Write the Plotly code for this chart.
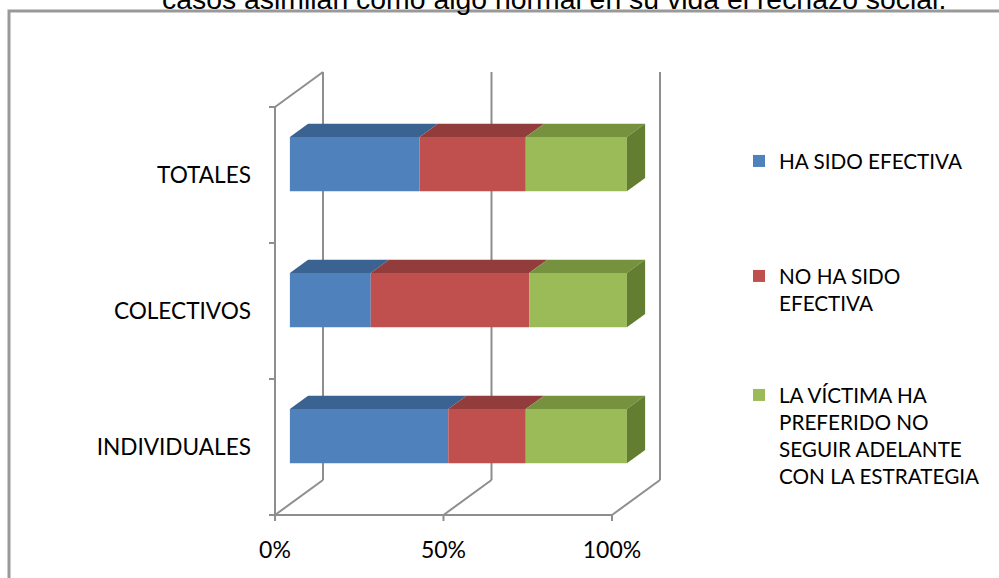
import plotly.graph_objects as go

# ---------------- data ----------------
categories = ["INDIVIDUALES", "COLECTIVOS", "TOTALES"]
series_names = [
    "HA SIDO EFECTIVA",
    "NO HA SIDO<br>EFECTIVA",
    "LA VÍCTIMA HA<br>PREFERIDO NO<br>SEGUIR ADELANTE<br>CON LA ESTRATEGIA",
]
ha_sido_efectiva = [47, 24, 38.5]
no_ha_sido_efectiva = [23, 47, 31.5]
victima_no_sigue = [30, 29, 30]
x_tick_values = [0, 50, 100]
x_tick_labels = ["0%", "50%", "100%"]
title_text = "casos asimilan como algo normal en su vida el rechazo social."

# ---------------- styles ----------------
front_colors = ["#4F81BD", "#C0504D", "#9BBB59"]
top_colors = ["#3B6391", "#923D3B", "#76923E"]
side_color = "#637D31"
grid_color = "#8e8e8e"
FONT = "Lato"

# pseudo-3D projection (Excel style 3D stacked bar)
PX_PER_PCT = 3.37
PX_PER_UNIT = 136.0
DEPTH_X = 48 / PX_PER_PCT      # full depth shift in % units
DEPTH_Y = 35 / PX_PER_UNIT     # full depth shift in category units
F1, F2 = 0.31, 0.69            # bar front/back depth
BAR_W = 0.4

W, H = 999, 578
L, R, T, B = 262, 680, 55, 525   # plot area in pixels
FRONT_X0_PX, FRONT_Y0_PX = 275, 515
x_range = [(L - FRONT_X0_PX) / PX_PER_PCT, (R - FRONT_X0_PX) / PX_PER_PCT]
y_range = [(FRONT_Y0_PX - B) / PX_PER_UNIT, (FRONT_Y0_PX - T) / PX_PER_UNIT]


def proj(x, y, d):
    return x + DEPTH_X * d, y + DEPTH_Y * d


fig = go.Figure()
shapes = []


def add_line(p0, p1):
    shapes.append(dict(type="line", xref="x", yref="y", x0=p0[0], y0=p0[1],
                       x1=p1[0], y1=p1[1], layer="below",
                       line=dict(color=grid_color, width=2)))


n_cat = len(categories)
# walls / floor / gridlines
add_line(proj(0, 0, 0), proj(0, n_cat, 0))
add_line(proj(0, n_cat, 0), proj(0, n_cat, 1))
for xv in x_tick_values:
    add_line(proj(xv, 0, 1), proj(xv, n_cat, 1))
    add_line(proj(xv, 0, 0), proj(xv, 0, 1))
    add_line(proj(xv, 0, 0), proj(xv, -6 / PX_PER_UNIT, 0))
add_line(proj(x_tick_values[0], 0, 0), proj(x_tick_values[-1], 0, 0))
for k in range(n_cat + 1):
    add_line(proj(0, k, 0), proj(-6 / PX_PER_PCT, k, 0))

series = [ha_sido_efectiva, no_ha_sido_efectiva, victima_no_sigue]
cum = [0.0] * n_cat
legend_ids = ["legend", "legend2", "legend3"]
for si, vals in enumerate(series):
    starts = cum[:]
    ends = [s + v for s, v in zip(starts, vals)]
    yc = [i + 0.5 for i in range(n_cat)]
    # front faces as real bars
    fig.add_trace(go.Bar(
        orientation="h",
        x=vals,
        base=[s + DEPTH_X * F1 for s in starts],
        y=[c + DEPTH_Y * F1 for c in yc],
        width=BAR_W,
        marker=dict(color=front_colors[si], line=dict(width=0)),
        name=series_names[si],
        legend=legend_ids[si],
        hoverinfo="skip",
    ))
    # top faces
    for i in range(n_cat):
        yt = yc[i] + BAR_W / 2
        pts = [proj(starts[i], yt, F1), proj(ends[i], yt, F1),
               proj(ends[i], yt, F2), proj(starts[i], yt, F2)]
        fig.add_trace(go.Scatter(
            x=[p[0] for p in pts] + [pts[0][0]],
            y=[p[1] for p in pts] + [pts[0][1]],
            mode="lines", fill="toself", fillcolor=top_colors[si],
            line=dict(width=0), showlegend=False, hoverinfo="skip"))
        if si == len(series) - 1:
            yb = yc[i] - BAR_W / 2
            pts = [proj(ends[i], yb, F1), proj(ends[i], yt, F1),
                   proj(ends[i], yt, F2), proj(ends[i], yb, F2)]
            fig.add_trace(go.Scatter(
                x=[p[0] for p in pts] + [pts[0][0]],
                y=[p[1] for p in pts] + [pts[0][1]],
                mode="lines", fill="toself", fillcolor=side_color,
                line=dict(width=0), showlegend=False, hoverinfo="skip"))
    cum = ends

# outer frame (paper coordinates)
pw, ph = R - L, B - T
def px_to_paper_x(px): return (px - L) / pw
def px_to_paper_y(py): return 1 + (T - py) / ph

shapes.append(dict(type="rect", xref="paper", yref="paper",
                   x0=px_to_paper_x(9), x1=px_to_paper_x(1020),
                   y0=px_to_paper_y(600), y1=px_to_paper_y(11),
                   line=dict(color="#999999", width=3), layer="below"))

legend_font = dict(family=FONT, size=20.7, color="#000000")
legend_common = dict(xanchor="left", yanchor="top", valign="top",
                     bgcolor="rgba(0,0,0,0)", font=legend_font,
                     x=px_to_paper_x(739))
fig.update_layout(
    width=W, height=H,
    margin=dict(l=L, r=W - R, t=T, b=H - B),
    paper_bgcolor="white", plot_bgcolor="white",
    barmode="overlay",
    annotations=[dict(text=title_text, xref="paper", yref="paper",
                      x=px_to_paper_x(554), y=px_to_paper_y(-1.5),
                      xanchor="center", yanchor="middle", showarrow=False,
                      font=dict(family="Liberation Sans", size=28.4, color="#000000"))],
    xaxis=dict(range=x_range, tickvals=x_tick_values, ticktext=x_tick_labels,
               showgrid=False, zeroline=False, showline=False, ticks="",
               ticklabelstandoff=9,
               tickfont=dict(family=FONT, size=23, color="#000000"), fixedrange=True),
    yaxis=dict(range=y_range, tickvals=[i + 0.5 for i in range(n_cat)],
               ticktext=categories, showgrid=False, zeroline=False,
               showline=False, ticks="", ticklabelstandoff=10,
               tickfont=dict(family=FONT, size=22.6, color="#000000"), fixedrange=True),
    legend=dict(**legend_common, y=px_to_paper_y(141)),
    legend2=dict(**legend_common, y=px_to_paper_y(256)),
    legend3=dict(**legend_common, y=px_to_paper_y(375)),
    shapes=shapes,
    showlegend=True,
)

fig.write_html("out.html", config={"displayModeBar": False},
               post_script="document.body.style.margin='0';document.body.style.overflow='hidden';")
